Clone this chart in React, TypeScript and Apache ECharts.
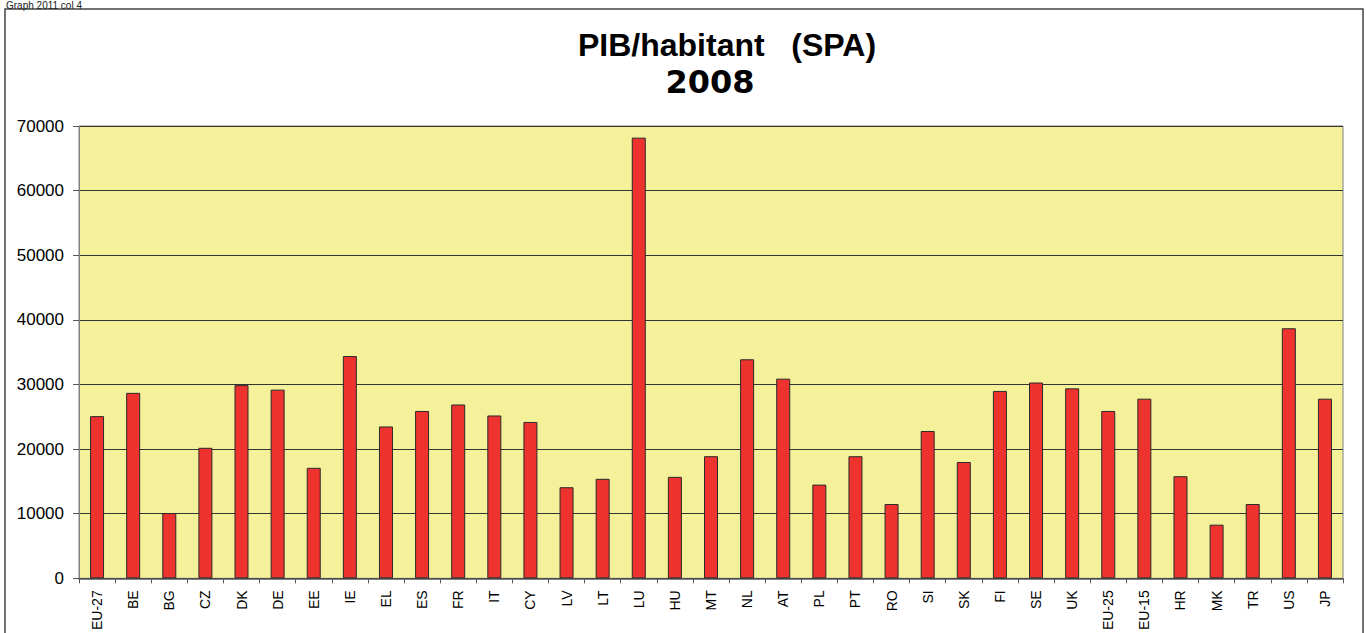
import React, { useEffect, useRef } from "react";
import * as echarts from "echarts";

const categories = [
  "EU-27", "BE", "BG", "CZ", "DK", "DE", "EE", "IE", "EL", "ES", "FR", "IT",
  "CY", "LV", "LT", "LU", "HU", "MT", "NL", "AT", "PL", "PT", "RO", "SI", "SK",
  "FI", "SE", "UK", "EU-25", "EU-15", "HR", "MK", "TR", "US", "JP",
];

const pibValues = [
  25100, 28700, 10100, 20200, 29900, 29200, 17100, 34400, 23500, 25900, 26900, 25200,
  24200, 14100, 15400, 68200, 15700, 18900, 33900, 30900, 14500, 18900, 11500, 22800, 18000,
  29000, 30300, 29400, 25900, 27800, 15800, 8300, 11500, 38700, 27800,
];

const yTicks = { min: 0, max: 70000, interval: 10000 };

const titleText = "PIB/habitant   (SPA)";
const subTitleText = "2008";
const cornerText = "Graph 2011 col 4";

export default function App() {
  const ref = useRef<HTMLDivElement>(null);

  useEffect(() => {
    if (!ref.current) return;
    const chart = echarts.init(ref.current, null, { renderer: "svg" });
    const font = "Liberation Sans, Arial, sans-serif";
    chart.setOption({
      animation: false,
      backgroundColor: "#ffffff",
      textStyle: { fontFamily: font },
      graphic: [
        {
          type: "rect",
          shape: { x: 5, y: 9, width: 1358, height: 640 },
          style: { fill: "none", stroke: "#444444", lineWidth: 1.5 },
          silent: true,
        },
        {
          type: "text",
          x: 6,
          y: 0,
          style: {
            text: cornerText,
            fontSize: 10,
            fontFamily: font,
            fill: "#222",
            textVerticalAlign: "top",
          },
        },
        {
          type: "text",
          x: 727,
          y: 45,
          style: {
            text: titleText,
            fontSize: 32,
            fontWeight: "bold",
            fontFamily: font,
            fill: "#000",
            textAlign: "center",
            textVerticalAlign: "middle",
          },
        },
        {
          type: "text",
          x: 710,
          y: 82,
          style: {
            text: subTitleText,
            fontSize: 32,
            fontWeight: "bold",
            fontFamily: "DejaVu Sans, sans-serif",
            fill: "#000",
            textAlign: "center",
            textVerticalAlign: "middle",
          },
        },
      ],
      grid: {
        left: 79,
        right: 23,
        top: 126,
        bottom: 52,
        show: true,
        backgroundColor: "#F5F19A",
        borderColor: "#808080",
        borderWidth: 1,
      },
      xAxis: {
        type: "category",
        data: categories,
        axisLine: { show: true, lineStyle: { color: "#555", width: 1.5 } },
        axisTick: { show: true, length: 5, lineStyle: { color: "#555" } },
        axisLabel: {
          interval: 0,
          rotate: 90,
          fontSize: 14,
          color: "#000",
          margin: 12,
          fontFamily: font,
        },
      },
      yAxis: {
        type: "value",
        min: yTicks.min,
        max: yTicks.max,
        interval: yTicks.interval,
        axisLine: { show: true, lineStyle: { color: "#808080" } },
        axisTick: { show: true, length: 6, lineStyle: { color: "#555" } },
        axisLabel: {
          fontSize: 17,
          color: "#000",
          margin: 15,
          fontFamily: font,
          formatter: (v: number) => String(v),
        },
        splitLine: { show: true, lineStyle: { color: "#333333", width: 1 } },
      },
      series: [
        {
          type: "bar",
          data: pibValues,
          barWidth: 14,
          itemStyle: { color: "#EE322D", borderColor: "#2a2a2a", borderWidth: 1 },
        },
      ],
    });
    return () => chart.dispose();
  }, []);

  return (
    <div
      ref={ref}
      style={{ position: "fixed", left: 0, top: 0, width: 1366, height: 633 }}
    />
  );
}
